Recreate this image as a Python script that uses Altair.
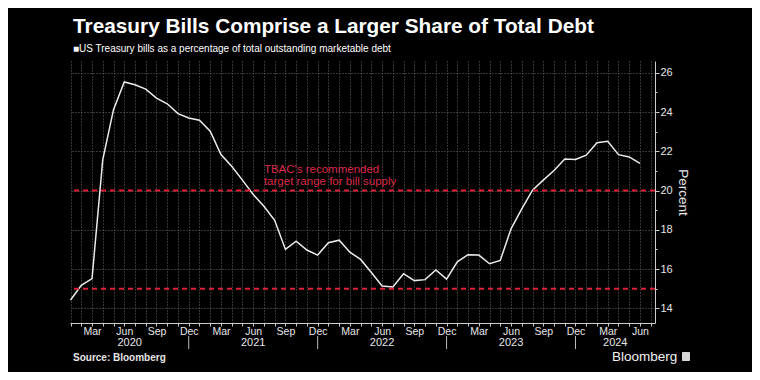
import altair as alt
import pandas as pd

months = [f"{y}-{m:02d}" for y in range(2020, 2025) for m in range(1, 13)][:54]
bill_share = [
    14.42, 15.17, 15.51, 21.58, 24.12, 25.53, 25.39, 25.17, 24.71, 24.42, 23.92, 23.70,
    23.58, 23.02, 21.83, 21.24, 20.53, 19.80, 19.20, 18.48, 17.00, 17.42, 16.97, 16.71,
    17.34, 17.47, 16.86, 16.49, 15.82, 15.14, 15.09, 15.76, 15.41, 15.46, 15.95, 15.49,
    16.37, 16.73, 16.71, 16.27, 16.44, 18.05, 19.07, 20.02, 20.53, 21.02, 21.61, 21.58,
    21.80, 22.44, 22.51, 21.83, 21.71, 21.38,
]
target_range = [15, 20]
note_lines = ["TBAC's recommended", "target range for bill supply"]
years = [2020, 2021, 2022, 2023, 2024]
month_names = ["Jan", "Feb", "Mar", "Apr", "May", "Jun", "Jul", "Aug", "Sep", "Oct", "Nov", "Dec"]

W, H = 585, 262
XMIN, XMAX = -0.05, 54.4
YMIN, YMAX = 13.25, 26.6
SANS = "Liberation Sans, Arial, sans-serif"

df = pd.DataFrame({"month": months, "value": bill_share})
df["idx"] = list(range(len(df)))

x_scale = alt.Scale(domain=[XMIN, XMAX], nice=False, zero=False)
y_scale = alt.Scale(domain=[YMIN, YMAX], nice=False, zero=False)

label_expr = ("datum.value % 3 == 2 ? " + str(month_names).replace(" ", "") +
              "[datum.value % 12] : ''")

x_axis = alt.Axis(
    values=list(range(0, 55)), labelExpr=label_expr, title=None,
    grid=True, gridColor="#6a6a6a", gridDash=[1, 2], gridWidth=1,
    tickSize=3, tickColor="#cccccc", domainColor="#cccccc",
    labelColor="#e6e6e6", labelFont=SANS, labelFontSize=10.5,
    labelPadding=0, labelOverlap=False, labelFlush=False, labelBound=False,
)
y_axis = alt.Axis(
    orient="right", values=list(range(14, 27)), title="Percent",
    labelExpr="datum.value % 2 == 0 ? datum.label : ''",
    grid=True, gridColor="#6a6a6a", gridDash=[1, 2],
    gridOpacity={"expr": "datum.value % 2 == 0 ? 1 : 0"},
    tickSize={"expr": "datum.value % 2 == 0 ? 4 : 2"},
    tickColor="#cccccc", domainColor="#cccccc",
    labelColor="#e6e6e6", labelFont=SANS, labelFontSize=11, labelPadding=1,
    labelOverlap=False, labelFlush=False,
    titleColor="#e6e6e6", titleFont=SANS, titleFontSize=13.5, titleFontWeight="normal",
    titlePadding=3,
)

line = alt.Chart(df).mark_line(color="#ececec", strokeWidth=1.5).encode(
    x=alt.X("idx:Q", scale=x_scale, axis=x_axis),
    y=alt.Y("value:Q", scale=y_scale, axis=y_axis),
)

rules = alt.Chart(pd.DataFrame({"v": target_range})).mark_rule(
    color="#e0203a", strokeWidth=2, strokeDash=[5, 4]
).encode(y=alt.Y("v:Q", scale=y_scale, axis=y_axis))

note_df = pd.DataFrame({"t": note_lines, "x": [18, 18], "y": [21.07, 20.42]})
note = alt.Chart(note_df).mark_text(
    align="left", baseline="middle", color="#dc2a48", font=SANS, fontSize=11.5
).encode(
    x=alt.X("x:Q", scale=x_scale, axis=x_axis),
    y=alt.Y("y:Q", scale=y_scale, axis=y_axis),
    text="t:N",
)

# year labels centred in the visible span of each year; separators at year ends
yl = []
for k, yv in enumerate(years):
    lo = max(0, 12 * k - 1)
    hi = min(XMAX, 12 * k + 11)
    yl.append({"year": str(yv), "c": (lo + hi) / 2})
year_df = pd.DataFrame(yl)
year_text = alt.Chart(year_df).mark_text(
    baseline="middle", color="#e6e6e6", font=SANS, fontSize=11
).encode(x=alt.X("c:Q", scale=x_scale, axis=x_axis), y=alt.value(H + 20), text="year:N")

sep_df = pd.DataFrame({"s": [12 * k + 11 for k in range(len(years) - 1)]})
seps = alt.Chart(sep_df).mark_rule(color="#bbbbbb", strokeWidth=1).encode(
    x=alt.X("s:Q", scale=x_scale, axis=x_axis), y=alt.value(H + 13), y2=alt.value(H + 26)
)

src = alt.Chart(pd.DataFrame({"t": ["Source: Bloomberg"]})).mark_text(
    align="left", baseline="middle", color="#e6e6e6", font=SANS, fontSize=10,
    fontWeight="bold"
).encode(x=alt.value(3), y=alt.value(H + 35), text="t:N")

brand = alt.Chart(pd.DataFrame({"t": ["Bloomberg"]})).mark_text(
    align="left", baseline="middle", color="#f2f2f2", font=SANS, fontSize=13.5
).encode(x=alt.value(542), y=alt.value(H + 34), text="t:N")

icon = alt.Chart(pd.DataFrame({"t": ["icon"]})).mark_rect(
    color="#d8d8d8", cornerRadius=1
).encode(x=alt.value(612), x2=alt.value(620), y=alt.value(H + 29), y2=alt.value(H + 38))

chart = alt.layer(line, rules, note, year_text, seps, src, brand, icon).properties(
    width=W, height=H,
    background="#000000",
    padding={"left": 62, "top": 53, "right": 97, "bottom": 49},
    autosize=alt.AutoSizeParams(type="none"),
    title=alt.TitleParams(
        text="Treasury Bills Comprise a Larger Share of Total Debt",
        subtitle="\u25a0US Treasury bills as a percentage of total outstanding marketable debt",
        anchor="start", frame="group", dx=3, offset=6,
        color="#ffffff", font=SANS, fontSize=20.8, fontWeight="bold",
        subtitleColor="#ffffff", subtitleFont=SANS, subtitleFontSize=10,
        subtitlePadding=6,
    ),
).configure_view(stroke=None)

chart.save("out.html", embed_options={"renderer": "svg", "actions": False})
